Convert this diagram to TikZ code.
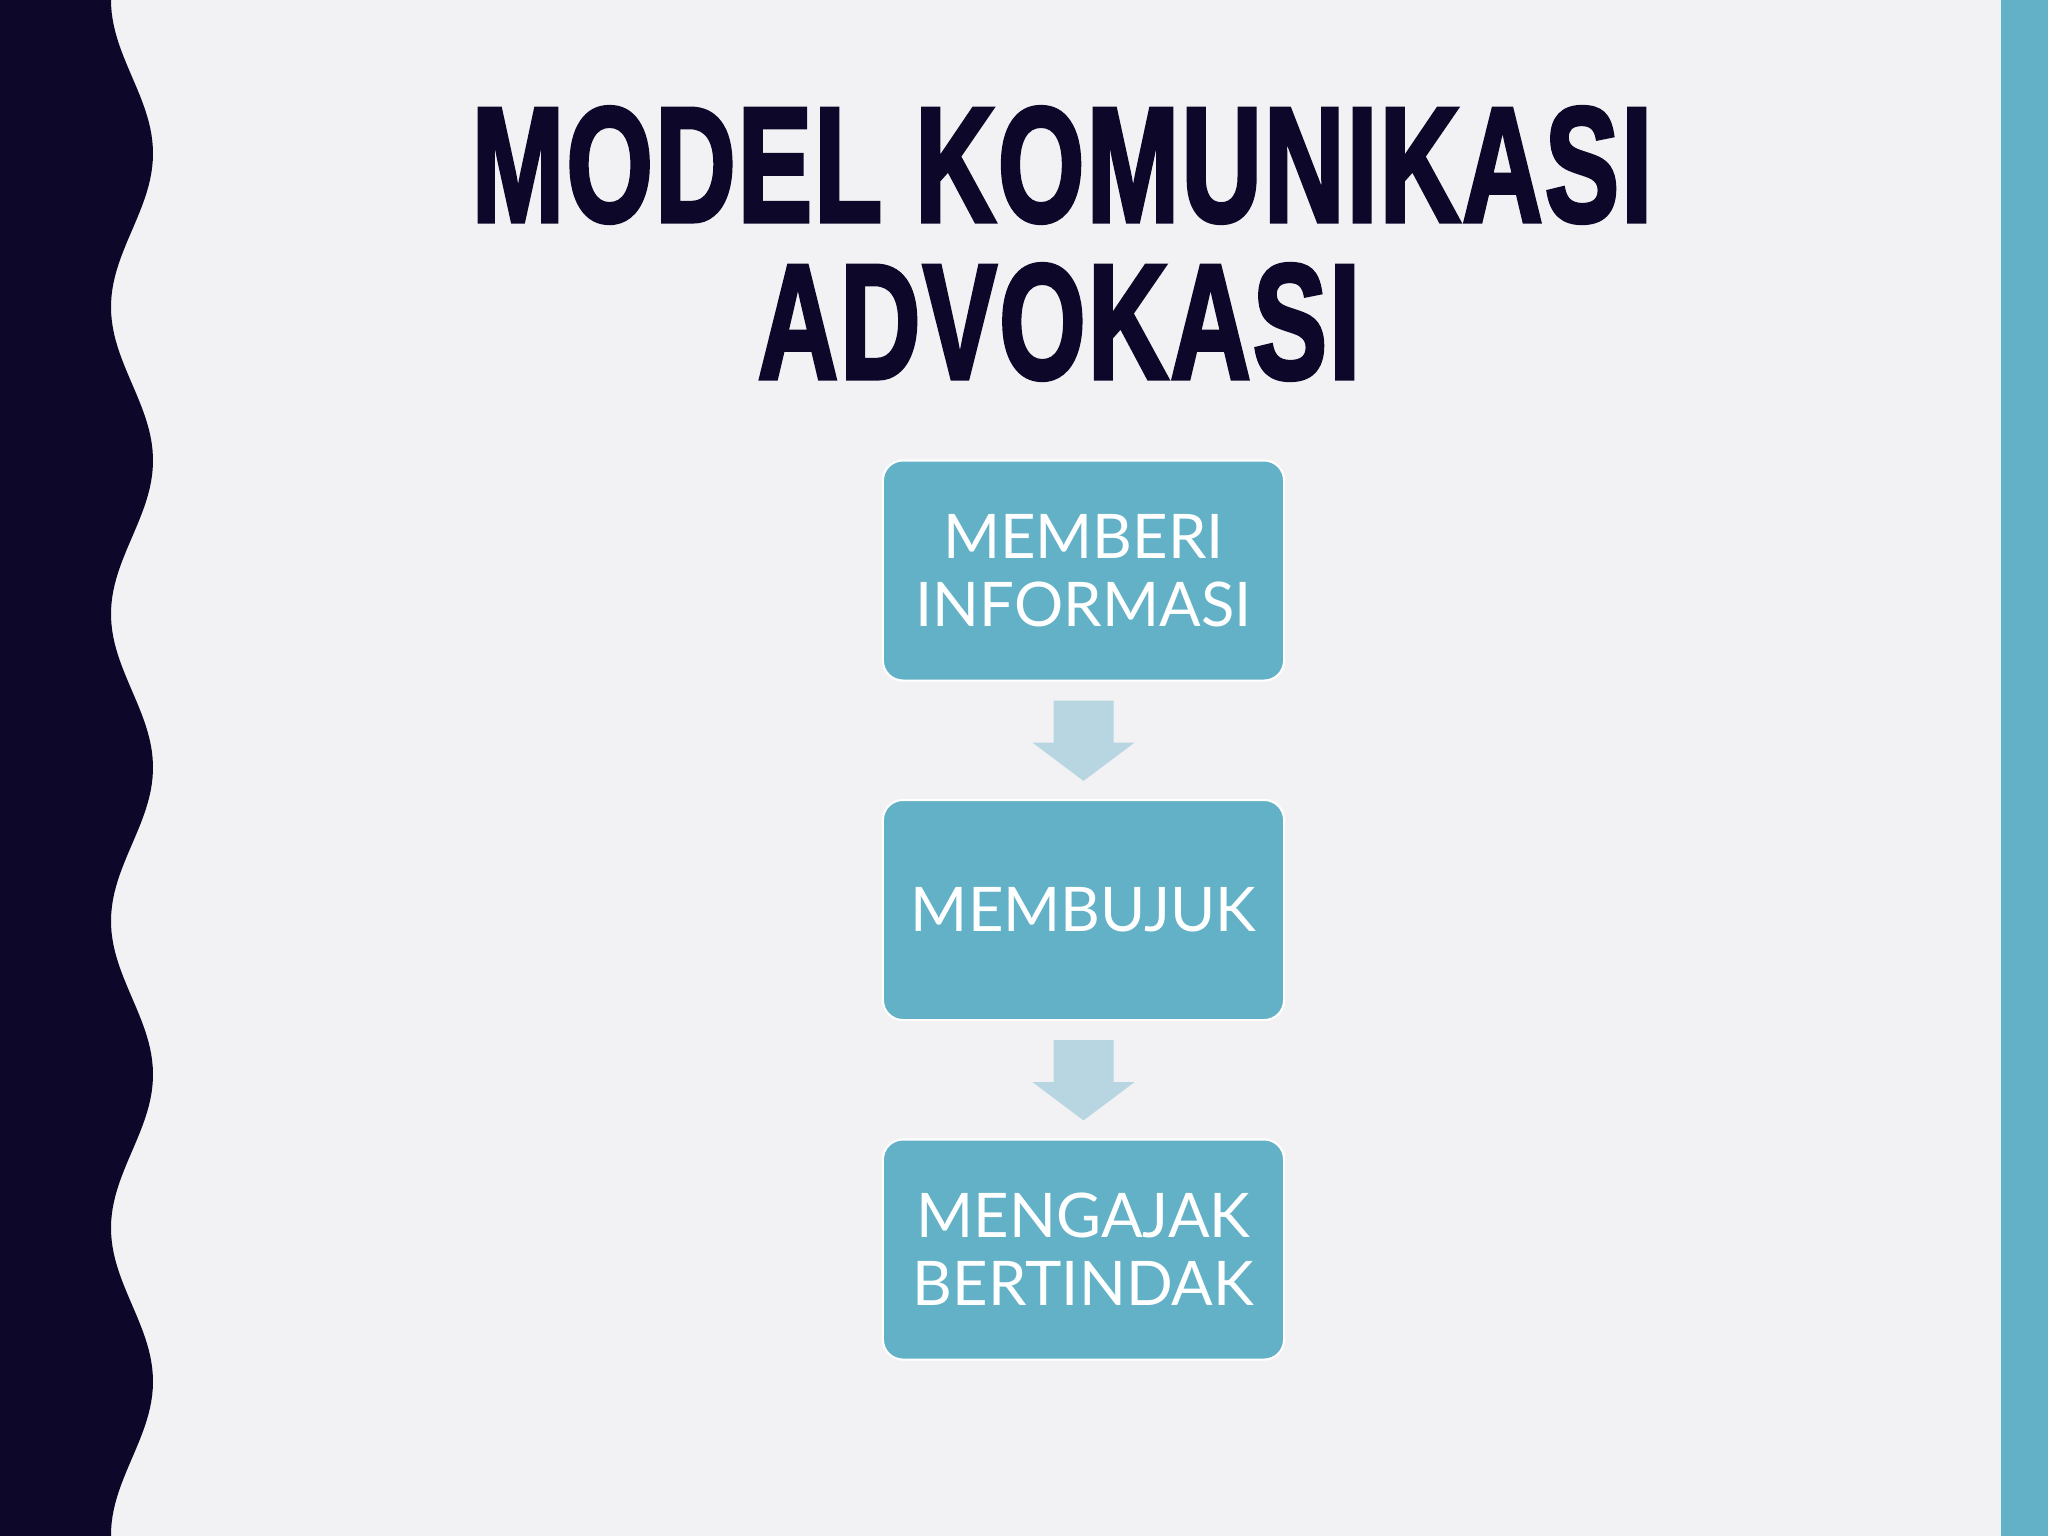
\documentclass[tikz,border=0pt]{standalone}
\usepackage{fontspec}
\usepackage{xcolor}
\usepackage{graphicx}
\usepackage{tikz}
\setmainfont{Lato}
\newfontfamily\titlefont[FakeBold=2.8, LetterSpace=2]{Liberation Sans}
\definecolor{navy}{RGB}{13,8,42}
\definecolor{boxteal}{RGB}{99,177,199}
\definecolor{paleteal}{RGB}{184,214,225}
\definecolor{paper}{RGB}{242,242,244}
\usetikzlibrary{calc}

\begin{document}
\begin{tikzpicture}[x=0.01cm, y=-0.01cm,
    stepbox/.style={draw=white, line width=0.6pt, fill=boxteal, rounded corners=0.2cm,
        minimum width=4.01cm, minimum height=2.2cm, align=center, text=white,
        font=\fontsize{17.5}{19.3}\selectfont},
    titleline/.style={inner sep=0pt, text=navy}]
    \useasboundingbox (0,0) rectangle (2048,1536);
    % Page background
    \fill[paper] (0,0) rectangle (2048,1536);
    
    % Wavy dark band on the left
    \fill[navy] (0,0) -- plot[domain=0:1536, samples=240] ({132-21*cos(1.17264*\x)}, \x) -- (0,1536) -- cycle;
    
    % Teal band on the right
    \fill[boxteal] (2001,0) rectangle (2048,1536);
    
    % Title
    \node[titleline] (title1) at (1062,165) {\titlefont\bfseries\resizebox{11.8cm}{1.14cm}{MODEL KOMUNIKASI}};
    \node[titleline] (title2) at (1059,322) {\titlefont\bfseries\resizebox{6.02cm}{1.14cm}{ADVOKASI}};
    
    % Steps
    \node[stepbox] (box1) at (1083.5,570.5) {MEMBERI\\INFORMASI};
    \node[stepbox] (box2) at (1083.5,910) {MEMBUJUK};
    \node[stepbox] (box3) at (1083.5,1249.5) {MENGAJAK\\BERTINDAK};
    
    % Block arrows between the steps
    \foreach \a/\b in {box1/box2, box2/box3}
        \fill[paleteal] ($(\a.south)+(-30,19)$) -- ($(\a.south)+(30,19)$) -- ($(\a.south)+(30,61)$)
            -- ($(\a.south)+(51,61)$) -- ($(\b.north)+(0,-18)$) -- ($(\a.south)+(-51,61)$)
            -- ($(\a.south)+(-30,61)$) -- cycle;
\end{tikzpicture}
\end{document}
